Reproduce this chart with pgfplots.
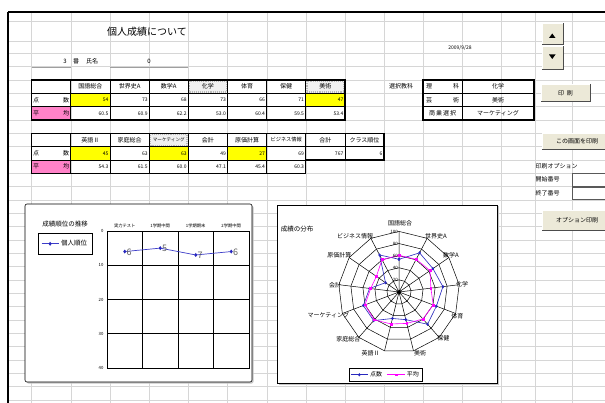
\documentclass[border=0pt]{standalone}
\usepackage{fontspec}
\setmainfont{Noto Sans CJK JP}
\usepackage{pgfplots}
\pgfplotsset{compat=1.18}
\usepgfplotslibrary{polar}
\definecolor{gridc}{RGB}{214,214,214}
\definecolor{yel}{RGB}{255,255,0}
\definecolor{pinkc}{RGB}{255,130,200}
\definecolor{btn}{RGB}{236,233,216}
\definecolor{lineblue}{RGB}{60,60,200}
\definecolor{radblue}{RGB}{40,40,190}
\definecolor{mag}{RGB}{255,0,255}
\newcommand{\fs}[1]{\fontsize{#1}{#1}\selectfont}
\newcommand{\btn}[4]{%
  \fill[btn] (#1,#2) rectangle (#3,#4);
  \draw[white,line width=0.6pt] (#1,#4) -- (#1,#2) -- (#3,#2);
  \draw[gray!60!black,line width=0.9pt] (#3,#2) -- (#3,#4) -- (#1,#4);}
\begin{document}
\begin{tikzpicture}
\useasboundingbox (0,0) rectangle (605pt,-403pt);
\fill[white] (0,0) rectangle (605pt,-403pt);
\begin{scope}[x=1pt,y=-1pt]
% spreadsheet grid
\foreach \gx in {31.5,70.7,110,149.3,188.3,227.5,266.7,305.7,345,384,423,462,501,535.5,572}
  \draw[gridc,line width=0.4pt] (\gx,12) -- (\gx,403);
\foreach \gy in {21.7,41.7,53.3}
  \draw[gridc,line width=0.4pt] (8,\gy) -- (605,\gy);
\foreach \k in {0,...,25}
  \draw[gridc,line width=0.4pt] (8,{66.67+13.333*\k}) -- (605,{66.67+13.333*\k});
% sheet border
\draw[black,line width=1.3pt] (8,12) -- (605,12);
\draw[black,line width=1.3pt] (8,12) -- (8,403);
% title
\node[font=\fs{10}] at (147,32) {個人成績について};
\node[font=\fs{6}] at (65,61.5) {3};
\node[font=\fs{6}] at (76,61.5) {番};
\node[font=\fs{6}] at (92,61.5) {氏名};
\node[font=\fs{6}] at (149,61.5) {0};
\draw[gray!75,line width=1.1pt] (31.5,67.8) -- (70.7,67.8);
\draw[gray!75,line width=1.1pt] (110,67.8) -- (188.3,67.8);
\node[font=\fs{5}] at (460,47.5) {2009/9/28};
% ---------- table 1
\fill[yel] (70.7,93.33) rectangle (110,106.67);
\fill[yel] (305.7,93.33) rectangle (345,106.67);
\fill[pinkc] (31.5,106.67) rectangle (70.7,120);
\fill[black!6] (188.3,80) rectangle (227.5,93.33);
\fill[black!6] (305.7,80) rectangle (345,93.33);
\draw[gray!55,densely dotted,line width=1.1pt] (189.6,81.3) rectangle (226.2,92);
\draw[gray!55,densely dotted,line width=1.1pt] (307,81.3) rectangle (343.7,92);
\draw[black,line width=0.5pt] (31.5,93.33) -- (345,93.33) (31.5,106.67) -- (345,106.67);
\foreach \cx in {70.7,110,149.3,188.3,227.5,266.7,305.7}
  \draw[black,line width=0.5pt] (\cx,80) -- (\cx,120);
\draw[black,line width=1.4pt] (31.5,80) rectangle (345,120);
\begin{scope}[every node/.style={font=\fs{6}}]
\node at (90.35,86.7) {国語総合};
\node at (129.65,86.7) {世界史A};
\node at (168.8,86.7) {数学A};
\node at (207.9,86.7) {化学};
\node at (247.1,86.7) {体育};
\node at (286.2,86.7) {保健};
\node at (325.35,86.7) {美術};
\node at (36,100) {点}; \node at (66,100) {数};
\node at (36,113.3) {平}; \node at (66,113.3) {均};
\end{scope}
\begin{scope}[every node/.style={font=\fs{5},anchor=east,inner sep=1.5pt}]
\node at (110,100) {54}; \node at (149.3,100) {73}; \node at (188.3,100) {68};
\node at (227.5,100) {73}; \node at (266.7,100) {66}; \node at (305.7,100) {71};
\node at (345,100) {47};
\node at (110,113.3) {60.5}; \node at (149.3,113.3) {60.9}; \node at (188.3,113.3) {62.2};
\node at (227.5,113.3) {53.0}; \node at (266.7,113.3) {60.4}; \node at (305.7,113.3) {59.5};
\node at (345,113.3) {53.4};
\end{scope}
% ---------- table 2
\fill[yel] (70.7,146.67) rectangle (110,160);
\fill[yel] (149.3,146.67) rectangle (188.3,160);
\fill[yel] (227.5,146.67) rectangle (266.7,160);
\fill[pinkc] (31.5,160) rectangle (70.7,173.33);
\fill[black!6] (149.3,133.33) rectangle (188.3,146.67);
\draw[gray!55,densely dotted,line width=1.1pt] (150.6,134.6) rectangle (187,145.4);
\draw[black,line width=0.5pt] (31.5,146.67) -- (384,146.67) (31.5,160) -- (305.7,160);
\foreach \cx in {70.7,110,149.3,188.3,227.5,266.7}
  \draw[black,line width=0.5pt] (\cx,133.33) -- (\cx,173.33);
\draw[black,line width=0.5pt] (345,133.33) -- (345,160);
\draw[black,line width=1.4pt] (31.5,133.33) -- (384,133.33) -- (384,160) -- (305.7,160) -- (305.7,173.33) -- (31.5,173.33) -- cycle;
\draw[black,line width=1.4pt] (305.7,133.33) -- (305.7,173.33);
\begin{scope}[every node/.style={font=\fs{6}}]
\node at (90.35,140) {英語Ⅱ};
\node at (129.65,140) {家庭総合};
\node[font=\fs{4.6}] at (168.8,140) {マーケティング};
\node at (207.9,140) {会計};
\node at (247.1,140) {原価計算};
\node[font=\fs{5.2}] at (286.2,140) {ビジネス情報};
\node at (325.35,140) {合計};
\node at (364.5,140) {クラス順位};
\node at (36,153.3) {点}; \node at (66,153.3) {数};
\node at (36,166.7) {平}; \node at (66,166.7) {均};
\end{scope}
\begin{scope}[every node/.style={font=\fs{5},anchor=east,inner sep=1.5pt}]
\node at (110,153.3) {45}; \node at (149.3,153.3) {63}; \node at (188.3,153.3) {63};
\node at (227.5,153.3) {49}; \node at (266.7,153.3) {27}; \node at (305.7,153.3) {69};
\node at (345,153.3) {767}; \node at (384,153.3) {6};
\node at (110,166.7) {54.3}; \node at (149.3,166.7) {61.5}; \node at (188.3,166.7) {60.0};
\node at (227.5,166.7) {47.1}; \node at (266.7,166.7) {45.4}; \node at (305.7,166.7) {60.3};
\end{scope}
% ---------- selection table
\node[font=\fs{6}] at (401,86.7) {選択教科};
\draw[black,line width=0.5pt] (423,93.33) -- (534,93.33) (423,106.67) -- (534,106.67) (462,80) -- (462,120);
\draw[black,line width=1.4pt] (423,80) rectangle (534,120);
\begin{scope}[every node/.style={font=\fs{6}}]
\node at (429,86.7) {理}; \node at (456,86.7) {科};
\node at (429,100) {芸}; \node at (456,100) {術};
\node at (442.5,113.3) {商\,業\,選\,択};
\node at (498,86.7) {化学};
\node at (498,100) {美術};
\node at (498,113.3) {マーケティング};
\end{scope}
% ---------- buttons
\btn{542}{23.3}{563}{44.5}
\btn{542}{46.5}{563}{69}
\fill[black] (549,38) -- (555.5,38) -- (552.25,33.5) -- cycle;
\fill[black] (549,54.5) -- (555.5,54.5) -- (552.25,59) -- cycle;
\btn{541}{84}{590}{101.7}
\node[font=\fs{6}] at (565.5,92.8) {印\ \ 刷};
\btn{542}{133.5}{606}{149}
\node[font=\fs{6}] at (577,141.3) {この画面を印刷};
\node[font=\fs{6},anchor=west,inner sep=0pt] at (535.5,166.3) {印刷オプション};
\node[font=\fs{6},anchor=west,inner sep=0pt] at (535.5,179.5) {開始番号};
\node[font=\fs{6},anchor=west,inner sep=0pt] at (535.5,192.8) {終了番号};
\draw[gray!70!black,line width=0.9pt,fill=white] (572,173.3) rectangle (607,186);
\draw[gray!70!black,line width=0.9pt,fill=white] (572,187.3) rectangle (607,199.5);
\btn{542}{210}{606}{230.5}
\node[font=\fs{6}] at (577,220.3) {オプション印刷};
% ---------- chart containers
\fill[gray!45,rounded corners=2pt] (26.5,205.5) rectangle (253.5,383.5);
\draw[black,line width=0.6pt,fill=white,rounded corners=2pt] (25,204) rectangle (252,382);
\fill[gray!45] (278.5,206.5) rectangle (498.5,384.5);
\draw[black,line width=0.6pt,fill=white] (277,205) rectangle (497,383);
\node[font=\fs{6.5}] at (65,224) {成績順位の推移};
\node[font=\fs{6.5}] at (297,229.3) {成績の分布};
% radar spoke labels
\begin{scope}[every node/.style={font=\fs{6}}]
\node at (400,223.3) {国語総合};
\node at (436,236.7) {世界史A};
\node at (451,255.7) {数学A};
\node at (462,284.3) {化学};
\node at (457.3,316) {体育};
\node at (443.3,338.3) {保健};
\node at (420,353.3) {美術};
\node at (370.7,353.3) {英語Ⅱ};
\node at (348.3,339) {家庭総合};
\node at (328.3,315) {マーケティング};
\node at (335,285.7) {会計};
\node at (339.3,255.7) {原価計算};
\node at (355,236.7) {ビジネス情報};
\end{scope}
\end{scope}
% ---------- rank line chart
\begin{axis}[
  at={(178pt,-299.5pt)}, anchor=center,
  width=142pt, height=137pt, scale only axis,
  xmin=0, xmax=4, ymin=0, ymax=40, y dir=reverse,
  xtick={0.5,1.5,2.5,3.5},
  xticklabels={実力テスト,1学期中間,1学期期末,2学期中間},
  xticklabel pos=top,
  minor xtick={1,2,3},
  ytick={0,10,20,30,40},
  xminorgrids=true, ymajorgrids=true,
  grid style={black,line width=0.8pt},
  minor grid style={black,line width=0.8pt},
  axis line style={black,line width=0.8pt},
  major tick length=0pt, minor tick length=0pt,
  tick label style={font=\fs{4.3}},
  /pgf/number format/assume math mode=true,
  legend style={at={(-0.486,0.985)}, anchor=north west, draw=black, line width=0.5pt,
    font=\fs{6.5}, inner xsep=3pt, inner ysep=5pt},
  legend cell align=left,
  clip=false,
]
\addplot[lineblue, line width=0.7pt, mark=diamond*, mark size=1.4pt,
  mark options={fill=radblue, draw=radblue},
  point meta=y, nodes near coords,
  nodes near coords style={anchor=west, font=\fs{9}, text=gray!75!black, inner sep=1.5pt, yshift=-0.5pt}]
  coordinates {(0.5,6) (1.5,5) (2.5,7) (3.5,6)};
\addlegendentry{個人順位}
\end{axis}
% ---------- radar chart
\begin{polaraxis}[
  at={(399pt,-292pt)}, anchor=center,
  width=121.2pt, height=121.2pt, scale only axis,
  ymin=0, ymax=100,
  xtick={90,62.308,34.615,6.923,339.231,311.538,283.846,256.154,228.462,200.769,173.077,145.385,117.692},
  xticklabels={}, yticklabels={},
  xticklabel style={opacity=0, text opacity=0},
  yticklabel style={opacity=0, text opacity=0},
  ytick={20,40,60,80,100},
  xmajorgrids=true, ymajorgrids=false,
  grid style={black,line width=0.5pt},
  axis line style={draw=none},
  major tick length=0pt,
  clip=false,
  legend style={at={(0.39,-0.125)}, anchor=north, legend columns=2, draw=black,
    line width=0.5pt, font=\fs{6}, inner sep=1.5pt,
    /tikz/every even column/.append style={column sep=3pt}},
]
\addplot[black,line width=0.5pt,forget plot] coordinates {(90,20) (62.308,20) (34.615,20) (6.923,20) (339.231,20) (311.538,20) (283.846,20) (256.154,20) (228.462,20) (200.769,20) (173.077,20) (145.385,20) (117.692,20) (90,20)};
\addplot[black,line width=0.5pt,forget plot] coordinates {(90,40) (62.308,40) (34.615,40) (6.923,40) (339.231,40) (311.538,40) (283.846,40) (256.154,40) (228.462,40) (200.769,40) (173.077,40) (145.385,40) (117.692,40) (90,40)};
\addplot[black,line width=0.5pt,forget plot] coordinates {(90,60) (62.308,60) (34.615,60) (6.923,60) (339.231,60) (311.538,60) (283.846,60) (256.154,60) (228.462,60) (200.769,60) (173.077,60) (145.385,60) (117.692,60) (90,60)};
\addplot[black,line width=0.5pt,forget plot] coordinates {(90,80) (62.308,80) (34.615,80) (6.923,80) (339.231,80) (311.538,80) (283.846,80) (256.154,80) (228.462,80) (200.769,80) (173.077,80) (145.385,80) (117.692,80) (90,80)};
\addplot[black,line width=0.5pt,forget plot] coordinates {(90,100) (62.308,100) (34.615,100) (6.923,100) (339.231,100) (311.538,100) (283.846,100) (256.154,100) (228.462,100) (200.769,100) (173.077,100) (145.385,100) (117.692,100) (90,100)};
\addplot[radblue, line width=0.6pt, mark=diamond*, mark size=1.2pt, mark options={fill=radblue}]
  coordinates {(90,54) (62.308,73) (34.615,68) (6.923,73) (339.231,66) (311.538,71) (283.846,47) (256.154,45) (228.462,63) (200.769,63) (173.077,49) (145.385,27) (117.692,69) (90,54)};
\addlegendentry{点数}
\addplot[mag, line width=0.6pt, mark=square*, mark size=0.9pt, mark options={fill=mag}]
  coordinates {(90,60.5) (62.308,60.9) (34.615,62.2) (6.923,53.0) (339.231,60.4) (311.538,59.5) (283.846,53.4) (256.154,54.3) (228.462,61.5) (200.769,60.0) (173.077,47.1) (145.385,45.4) (117.692,60.3) (90,60.5)};
\addlegendentry{平均}
\node[anchor=east,font=\fs{4.5},inner sep=1pt] at (axis cs:90,20) {20};
\node[anchor=east,font=\fs{4.5},inner sep=1pt] at (axis cs:90,40) {40};
\node[anchor=east,font=\fs{4.5},inner sep=1pt] at (axis cs:90,60) {60};
\node[anchor=east,font=\fs{4.5},inner sep=1pt] at (axis cs:90,80) {80};
\node[anchor=east,font=\fs{4.5},inner sep=1pt] at (axis cs:90,100) {100};
\end{polaraxis}
\end{tikzpicture}
\end{document}
